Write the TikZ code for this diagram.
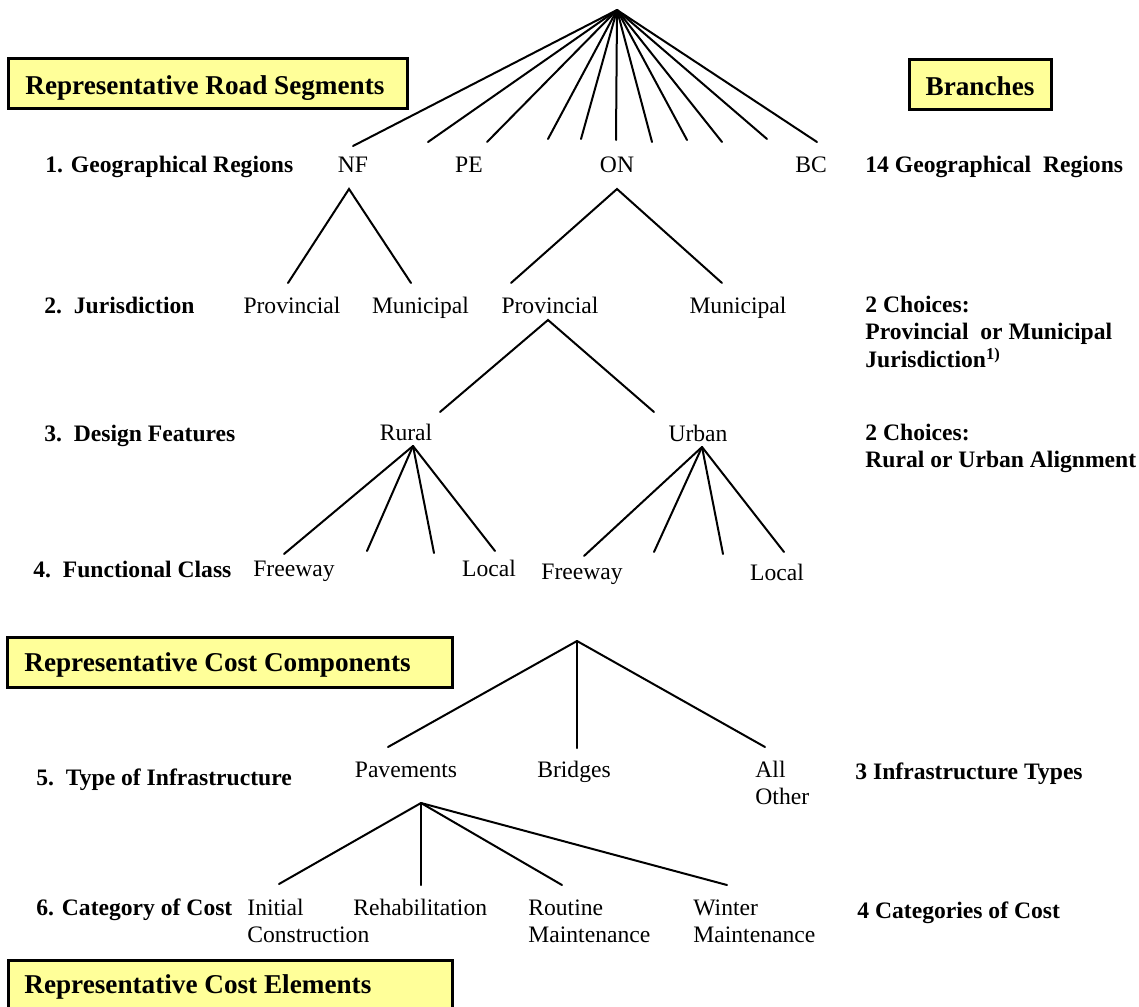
\documentclass[tikz,border=0pt]{standalone}
\usepackage{fontspec}
\setmainfont{Liberation Serif}
\definecolor{boxyellow}{RGB}{255,255,153}
\newcommand{\twolines}[2]{\begin{tabular}[t]{@{}l@{}}#1\\#2\end{tabular}}
\newcommand{\threelines}[3]{\begin{tabular}[t]{@{}l@{}}#1\\#2\\#3\end{tabular}}
\tikzset{
  lbl/.style={inner sep=0pt, anchor=base, font=\fontsize{11.8}{13.75}\selectfont},
  lblw/.style={lbl, anchor=base west},
  lvl/.style={inner sep=0pt, anchor=base west, font=\fontsize{11.8}{13.75}\selectfont\bfseries},
  hdrtext/.style={inner sep=0pt, anchor=base west, font=\fontsize{13.6}{16}\selectfont\bfseries},
  hdrbox/.style={draw=black, line width=1.5pt, fill=boxyellow},
  branch/.style={line width=1pt, line cap=round}
}
\begin{document}
\begin{tikzpicture}[x=0.5pt,y=-0.5pt]
\useasboundingbox (0,0) rectangle (1139,1006);
\clip (0,0) rectangle (1139,1006);

% ---------- header boxes ----------
\draw[hdrbox] (8,59) rectangle (407,109);
\node[hdrtext] (hroad) at (25,95) {Representative Road Segments};
\draw[hdrbox] (909,60) rectangle (1051,110);
\node[hdrtext, anchor=base] (hbranch) at (980,96) {Branches};
\draw[hdrbox] (7,637) rectangle (452,687);
\node[hdrtext] (hcomp) at (24,671) {Representative Cost Components};
\draw[hdrbox] (8,960) rectangle (452,1025);
\node[hdrtext] (helem) at (24,993) {Representative Cost Elements};

% ---------- level 1 ----------
\node[lvl] (L1) at (45,172) {1. Geographical Regions};
\node[lbl] (nf) at (353,172) {NF};
\node[lbl] (pe) at (469,172) {PE};
\node[lbl] (on) at (617,172) {ON};
\node[lbl] (bc) at (811,172) {BC};
\node[lvl] (R1) at (865,172) {14 Geographical\ \ Regions};

\coordinate (top) at (617,10);
\foreach \x/\y [count=\i] in {353/146,428/142,487/142,548/139,581/139,616/140,652/142,687/140,722/142,767/139,817/142}{
  \coordinate (g\i) at (\x,\y);
  \draw[branch] (top) -- (g\i);
}

% ---------- level 2 ----------
\coordinate (nfA) at (349,189);
\coordinate (nfP) at (288,283);
\coordinate (nfM) at (411,283);
\draw[branch] (nfP) -- (nfA) -- (nfM);
\coordinate (onA) at (617,189);
\coordinate (onP) at (511,283);
\coordinate (onM) at (722,283);
\draw[branch] (onP) -- (onA) -- (onM);

\node[lvl] (L2) at (44,313) {2.\ \ Jurisdiction};
\node[lbl] (nfprov) at (292,313) {Provincial};
\node[lbl] (nfmun) at (420.5,313) {Municipal};
\node[lbl] (onprov) at (550,313) {Provincial};
\node[lbl] (onmun) at (738,313) {Municipal};
\node[lvl] (R2) at (865,312) {\threelines{2 Choices:}{Provincial\ \ or Municipal}{Jurisdiction\textsuperscript{1)}}};

% ---------- level 3 ----------
\coordinate (pvA) at (548,320);
\coordinate (pvR) at (440,412);
\coordinate (pvU) at (654,412);
\draw[branch] (pvR) -- (pvA) -- (pvU);

\node[lvl] (L3) at (44,441) {3.\ \ Design Features};
\node[lbl] (rural) at (406,440) {Rural};
\node[lbl] (urban) at (698,441) {Urban};
\node[lvl] (R3) at (865,440) {\twolines{2 Choices:}{Rural or Urban Alignment}};

% ---------- level 4 ----------
\coordinate (ruA) at (413,446);
\foreach \x/\y [count=\i] in {284/554,367/551,434/553,495/551}{
  \coordinate (ru\i) at (\x,\y);
  \draw[branch] (ruA) -- (ru\i);
}
\coordinate (urA) at (702,447);
\foreach \x/\y [count=\i] in {584/556,654/552,723/554,784/552}{
  \coordinate (ur\i) at (\x,\y);
  \draw[branch] (urA) -- (ur\i);
}

\node[lvl] (L4) at (33,577) {4.\ \ Functional Class};
\node[lbl] (rfree) at (294,576) {Freeway};
\node[lbl] (rlocal) at (489,576) {Local};
\node[lbl] (ufree) at (582,579) {Freeway};
\node[lbl] (ulocal) at (777,580) {Local};

% ---------- level 5 ----------
\coordinate (coA) at (577,641);
\coordinate (co1) at (388,747);
\coordinate (co2) at (577,748);
\coordinate (co3) at (765,747);
\draw[branch] (coA) -- (co1);
\draw[branch] (coA) -- (co2);
\draw[branch] (coA) -- (co3);

\node[lvl] (L5) at (36,785) {5.\ \ Type of Infrastructure};
\node[lbl] (pav) at (406,777) {Pavements};
\node[lbl] (bri) at (574,777) {Bridges};
\node[lblw] (allo) at (755,777) {\twolines{All}{Other}};
\node[lvl] (R5) at (855,779) {3 Infrastructure Types};

% ---------- level 6 ----------
\coordinate (pvtA) at (421,803);
\foreach \x/\y [count=\i] in {279/884,421/885,562/885,727/885}{
  \coordinate (ct\i) at (\x,\y);
  \draw[branch] (pvtA) -- (ct\i);
}

\node[lvl] (L6) at (36,915) {6. Category of Cost};
\node[lblw] (init) at (247,915) {\twolines{Initial}{Construction}};
\node[lblw] (rehab) at (353,915) {Rehabilitation};
\node[lblw] (rout) at (528,915) {\twolines{Routine}{Maintenance}};
\node[lblw] (wint) at (693,915) {\twolines{Winter}{Maintenance}};
\node[lvl] (R6) at (857,918) {4 Categories of Cost};
\end{tikzpicture}
\end{document}
